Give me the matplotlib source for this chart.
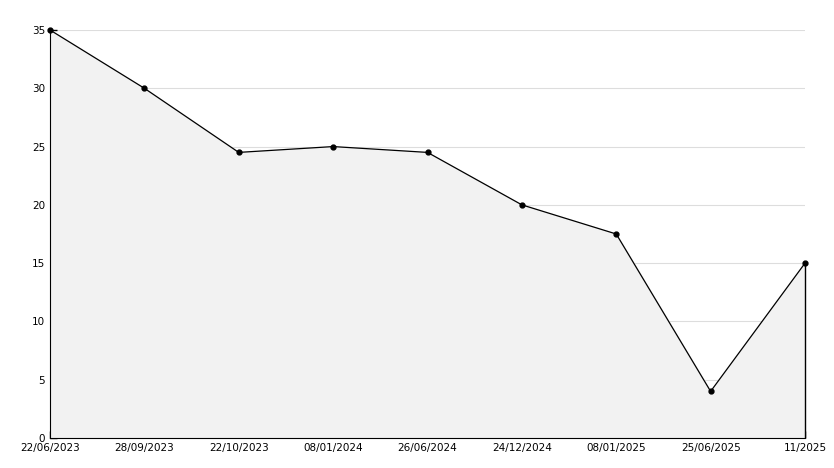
import matplotlib.pyplot as plt
from matplotlib.ticker import MultipleLocator

dates = ["22/06/2023", "28/09/2023", "22/10/2023", "08/01/2024", "26/06/2024",
         "24/12/2024", "08/01/2025", "25/06/2025", "11/2025"]
values = [35, 30, 24.5, 25, 24.5, 20, 17.5, 4, 15]

fig = plt.figure(figsize=(8.34, 4.68), dpi=100)
ax = fig.add_axes([50 / 834, 30 / 468, 755 / 834, 408 / 468])
x = list(range(len(values)))

ax.fill_between(x, values, 0, color="#f2f2f2", zorder=1)
ax.plot(x, values, color="black", linewidth=0.9, marker="o", markersize=3.5,
        zorder=3, clip_on=False)
ax.vlines(x[-1], 0, values[-1], color="black", linewidth=1, zorder=3, clip_on=False)

ax.set_xlim(0, len(values) - 1)
ax.set_ylim(0, 35)
ax.set_xticks(x)
ax.set_xticklabels(dates)
ax.yaxis.set_major_locator(MultipleLocator(5))
ax.yaxis.set_minor_locator(MultipleLocator(1))
ax.tick_params(axis="both", direction="in", labelsize=7.5, length=5, width=1)
ax.tick_params(axis="y", which="minor", direction="in", length=3)
ax.grid(True, axis="y", color="#dddddd", linewidth=0.8, zorder=0)
ax.set_axisbelow(True)
for s in ("top", "right"):
    ax.spines[s].set_visible(False)

fig.savefig("out.png")
